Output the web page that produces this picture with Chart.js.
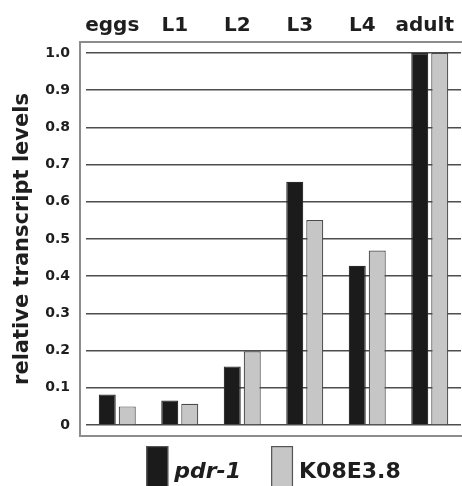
<!DOCTYPE html>
<html>
<head>
<meta charset="utf-8">
<script src="https://cdn.jsdelivr.net/npm/chart.js@4/dist/chart.umd.min.js"></script>
<style>
  html, body { margin: 0; padding: 0; background: #fff; }
  #wrap { width: 462px; height: 486px; position: relative; }
</style>
</head>
<body>
<div id="wrap"><canvas id="c" width="462" height="486"></canvas></div>
<script>
// Developmental stages and relative transcript levels
const stages = ['eggs', 'L1', 'L2', 'L3', 'L4', 'adult'];
const pdr1Levels = [0.082, 0.066, 0.157, 0.654, 0.428, 1.0];
const k08Levels = [0.050, 0.057, 0.198, 0.551, 0.469, 1.0];
const yTickLabels = ['0', '0.1', '0.2', '0.3', '0.4', '0.5', '0.6', '0.7', '0.8', '0.9', '1.0'];
const seriesNames = ['pdr-1', 'K08E3.8'];

const FONT = '"DejaVu Sans", "Liberation Sans", Arial, sans-serif';
const TEXT = '#1e1e1e';

// Grey frame around the plotting region
const framePlugin = {
  id: 'frame',
  beforeDraw(chart) {
    const { ctx, chartArea: a } = chart;
    ctx.save();
    ctx.strokeStyle = '#8c8c8c';
    ctx.lineWidth = 2;
    ctx.strokeRect(a.left - 6, a.top - 11, chart.width - a.left + 20, a.bottom - a.top + 22);
    ctx.restore();
  }
};

// Legend with tall swatches; first series name is italic
const legendPlugin = {
  id: 'tallLegend',
  afterDraw(chart) {
    const { ctx, chartArea: a } = chart;
    const ds = chart.data.datasets;
    const boxW = 22, boxH = 40, gapText = 6, gapItem = 30;
    const fonts = ['italic bold 22px ' + FONT, 'bold 22px ' + FONT];
    ctx.save();
    const widths = ds.map((d, i) => { ctx.font = fonts[i]; return ctx.measureText(d.label).width; });
    let total = 0;
    widths.forEach((w, i) => { total += boxW + gapText + w + (i < widths.length - 1 ? gapItem : 0); });
    let x = (a.left + a.right) / 2 - total / 2;
    const top = a.bottom + 21;
    ds.forEach((d, i) => {
      ctx.fillStyle = d.backgroundColor;
      ctx.fillRect(x, top, boxW, boxH);
      ctx.strokeStyle = '#555';
      ctx.lineWidth = 1.2;
      ctx.strokeRect(x + 0.6, top + 0.6, boxW - 1.2, boxH);
      x += boxW + gapText;
      ctx.font = fonts[i];
      ctx.fillStyle = TEXT;
      ctx.textBaseline = 'alphabetic';
      ctx.textAlign = 'left';
      ctx.fillText(d.label, x, a.bottom + 53);
      x += widths[i] + gapItem;
    });
    ctx.restore();
  }
};

new Chart(document.getElementById('c'), {
  type: 'bar',
  data: {
    labels: stages,
    datasets: [
      {
        label: seriesNames[0],
        data: pdr1Levels,
        backgroundColor: '#1b1b1b',
        borderColor: '#2a2a2a',
        borderWidth: 1.2
      },
      {
        label: seriesNames[1],
        data: k08Levels,
        backgroundColor: '#c6c6c6',
        borderColor: '#4a4a4a',
        borderWidth: 1.2
      }
    ]
  },
  options: {
    responsive: false,
    animation: false,
    devicePixelRatio: 1,
    layout: { padding: { left: 0, right: 1, top: 0, bottom: 61 } },
    categoryPercentage: 0.64,
    barPercentage: 0.85,
    plugins: {
      legend: { display: false },
      tooltip: { enabled: false }
    },
    scales: {
      x: {
        position: 'top',
        grid: { display: false, drawTicks: false },
        border: { display: false },
        ticks: {
          color: TEXT,
          font: { family: FONT, size: 20, weight: 'bold' },
          padding: 15,
          labelOffset: -5,
          maxRotation: 0
        },
        afterFit(s) {
          s.height = 53;
          s.paddingLeft = 0;
          s.paddingRight = 0;
        }
      },
      y: {
        min: 0,
        max: 1.0,
        grid: { color: '#4d4d4d', lineWidth: 1.5, drawTicks: false },
        border: { display: false },
        ticks: {
          stepSize: 0.1,
          color: TEXT,
          font: { family: FONT, size: 14, weight: 'bold' },
          padding: 16,
          callback: (v, i) => yTickLabels[i]
        },
        title: {
          display: true,
          text: 'relative transcript levels',
          color: TEXT,
          font: { family: FONT, size: 21, weight: 'bold' },
          padding: { top: 10, bottom: 0 }
        },
        afterFit(s) { s.width = 86; }
      }
    }
  },
  plugins: [framePlugin, legendPlugin]
});
</script>
</body>
</html>
